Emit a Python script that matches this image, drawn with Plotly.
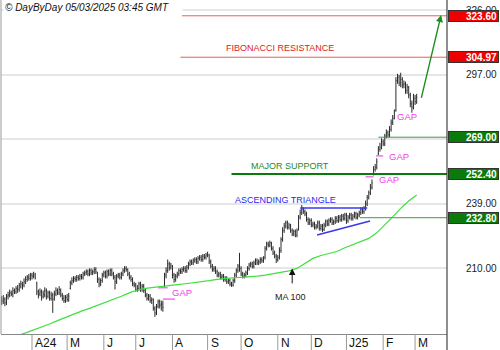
import pandas as pd
import plotly.graph_objects as go

# Daily session dates (business days)
dates = pd.bdate_range("2024-03-05", "2025-03-04")

opens = [
    196, 195.5, 196, 195, 197.5, 198, 199, 198.5, 200, 199.5,
    201, 200.5, 202, 203, 202.5, 204, 205, 206, 205.5, 207,
    206.5, 207, 203.5, 199, 198.5, 199, 197.5, 198, 200, 197.5,
    199, 196.5, 198, 196.5, 198.5, 200, 199, 200, 198, 196.5,
    195.5, 197, 196, 201, 203.5, 204.5, 205.5, 205, 206, 205.5,
    206.5, 206, 207.5, 208, 208.5, 207.5, 209, 208, 208.5, 209.5,
    208, 205, 203, 204.5, 207, 208, 206.5, 208.5, 207.5, 209,
    207.5, 206, 204, 206.5, 207, 206, 207.5, 209, 210, 209.5,
    207.5, 206, 205, 203, 202.5, 200.5, 201, 203, 200.5, 202,
    200, 198, 196.5, 197.5, 195.5, 196, 192, 190, 193, 195,
    193.5, 194, 202.5, 207, 209, 212, 210.5, 211, 207, 205,
    206.5, 207.5, 209, 208.5, 209.5, 210, 209, 210.5, 212, 213,
    212.5, 213.5, 214, 213, 214.5, 215, 214, 215.5, 215, 216,
    216, 213, 211, 209.5, 210, 208.5, 207, 207.5, 206, 206.5,
    205, 205.5, 204, 204.5, 203, 202.5, 204.5, 207, 209, 211,
    210, 207.5, 206.5, 207, 208, 210, 211.5, 212, 211, 212.5,
    213.5, 212.5, 213, 214, 213.5, 215, 219, 221, 220.5, 221.5,
    219, 217, 215.5, 214, 215, 218, 223, 227, 229, 230.5,
    228.5, 229.5, 227, 225.5, 226.5, 225, 228, 233, 235, 236.5,
    235.5, 234.5, 232, 230.5, 231.5, 229.5, 230, 228.5, 229, 230.5,
    228, 229, 227.5, 229.5, 231, 230, 231.5, 232, 230.5, 231,
    232.5, 231.5, 233, 232, 233.5, 232.5, 234, 231.5, 233, 234,
    232.5, 233.5, 234.5, 233, 234, 235, 236.5, 235.5, 237, 239,
    242, 244, 246.5, 252.5, 254.5, 255.5, 261.5, 263.5, 264.5, 267,
    266, 269.5, 271, 270, 272.5, 275.5, 277.5, 281, 294.5, 296,
    293.5, 295, 292.5, 293, 290, 291.5, 288, 284, 282.5, 286.5,
    285,
]

highs = [
    197.5, 198, 197, 198.5, 199.5, 200.5, 200, 201.5, 201, 202,
    202.5, 203.5, 204.5, 204, 205.5, 206.5, 207, 207.5, 208, 208,
    208.5, 208, 204, 200.5, 201, 200.5, 200, 201.5, 201, 200,
    200, 199.5, 199, 200, 201.5, 201, 202, 201, 199, 198,
    198, 198.5, 199, 204.5, 206, 206.5, 206.5, 207, 207, 207.5,
    207.5, 208.5, 209, 209.5, 209.5, 210, 210, 209.5, 210.5, 210.5,
    208.5, 206, 205.5, 208, 209, 209, 209.5, 209.5, 210, 210,
    208.5, 207, 207.5, 208, 208, 208.5, 210, 211, 211, 210,
    208.5, 207, 206, 204, 203.5, 202.5, 204, 204, 203, 203,
    201, 199, 198.5, 198.5, 197, 196.5, 193, 194, 196, 196,
    195.5, 195.5, 208, 210.5, 214, 213, 212.5, 211.5, 208, 207.5,
    208.5, 210, 210, 210.5, 211, 211, 211.5, 213, 214, 214,
    214.5, 215, 215, 215.5, 216, 216, 216.5, 216.5, 217, 217.5,
    216.5, 214, 212, 211, 211, 209.5, 208.5, 208.5, 207.5, 207.5,
    206.5, 206.5, 205.5, 205.5, 204, 205.5, 208, 210, 212, 217,
    211, 208.5, 208, 209, 211, 212.5, 213, 213, 213.5, 214.5,
    214.5, 214, 215, 215, 215.5, 220, 222, 222, 222.5, 222,
    220, 218, 216.5, 216, 219.5, 224, 228.5, 230.5, 231.5, 231.5,
    230.5, 230, 228, 227.5, 227.5, 228, 234, 236.5, 238.5, 237.5,
    236.5, 235.5, 233, 232.5, 232.5, 231, 231, 230, 231.5, 231.5,
    230, 230, 230.5, 232, 232, 232.5, 233, 233, 232, 233.5,
    233.5, 234, 234, 234.5, 234.5, 235, 235, 234, 235, 235,
    234.5, 235.5, 235.5, 235, 236, 237.5, 237.5, 238, 240.5, 243,
    245, 248, 250, 256, 257, 259.5, 265, 266.5, 268.5, 268,
    270.5, 272.5, 272, 274, 277, 279, 281.5, 296, 297.5, 297,
    298, 296, 294.5, 294, 293, 292, 289, 285.5, 288.5, 288,
    288.5,
]

lows = [
    193.5, 194, 193, 193.5, 196, 197, 197.5, 197, 198.5, 198.5,
    199, 199.5, 201, 200.5, 201.5, 203, 204, 204.5, 204.5, 205,
    205.5, 205, 198, 196.5, 197.5, 195.5, 196.5, 197, 196, 196.5,
    195.5, 195.5, 190, 195.5, 197.5, 198, 198, 197, 195.5, 194.5,
    194.5, 195, 195, 200.5, 202.5, 203.5, 204, 204, 204.5, 204.5,
    205, 205, 206.5, 207, 206.5, 206.5, 207, 207, 207.5, 207.5,
    203.5, 201.5, 202, 203.5, 206, 205.5, 205.5, 206.5, 206.5, 206.5,
    205, 200.5, 203, 205.5, 205, 205, 206.5, 208, 208.5, 206.5,
    205, 204, 202, 201.5, 199.5, 199.5, 200, 199.5, 199.5, 199,
    197, 195.5, 195.5, 194.5, 194, 191, 188.2, 189, 192, 192,
    191, 190.5, 201.5, 205.5, 208, 209, 209.5, 205.5, 203.5, 204,
    205.5, 206.5, 207.5, 207.5, 208.5, 208, 208, 209.5, 211, 211.5,
    211.5, 212.5, 212, 212, 213.5, 213, 213, 214, 214, 215,
    212, 210, 208.5, 208.5, 207.5, 206, 206, 205, 205, 204,
    204, 203, 203, 202, 201.7, 201.8, 203.5, 206, 208, 208.5,
    206.5, 205.5, 205.5, 206, 207, 209, 210.5, 210, 210, 211.5,
    211.5, 211.5, 212, 212.5, 212.5, 214, 218, 219.5, 219.5, 218,
    216, 214.5, 212.4, 213, 214, 217, 222, 226, 228, 227.5,
    227.5, 226, 224.5, 224.5, 224, 224, 227, 232, 234, 234.5,
    233.5, 231, 229.5, 229.5, 228.5, 228.5, 227.5, 227.5, 228, 227,
    227, 226.4, 226.8, 228.5, 229, 229, 230.5, 229.5, 229.5, 230,
    230.5, 230.5, 231, 231, 231.5, 231.5, 230, 230.5, 232, 231.5,
    231.5, 232.5, 232, 232, 233, 234, 234.5, 234.5, 236, 238,
    241, 243, 245.5, 251.8, 253.5, 254.5, 261, 262.5, 263.5, 265,
    265, 268.5, 269, 269, 271.5, 274.5, 277, 280.5, 293, 292,
    291.5, 291, 291, 288.5, 288.5, 286.5, 282.5, 280, 281.5, 283.5,
    284,
]

closes = [
    195, 196.5, 194.5, 197, 198, 199, 198.5, 200, 199.5, 201,
    200.5, 202.5, 203, 202, 204, 205, 206, 205.5, 207, 206.5,
    207.5, 206, 199.5, 198, 199.5, 197, 198.5, 200, 197.5, 199,
    196.5, 198, 196, 198.5, 200, 199, 200.5, 198, 196.5, 195.5,
    197, 196, 197.5, 203.5, 204.5, 205.5, 205, 206, 205.5, 206.5,
    206, 207.5, 208, 208.5, 207.5, 209, 208, 208.5, 209.5, 208.5,
    205, 203, 204.5, 207, 208, 206.5, 208.5, 207.5, 209, 207.5,
    206, 204, 206.5, 207, 206, 207.5, 209, 210, 209.5, 207.5,
    206, 205, 203, 202.5, 200.5, 201, 203, 200.5, 202, 200,
    198, 196.5, 197.5, 195.5, 196, 192, 190, 193, 195, 193.5,
    194, 192.5, 207, 209, 212, 210.5, 211.5, 207, 205, 206.5,
    207.5, 209, 208.5, 209.5, 210, 209, 210.5, 212, 213, 212.5,
    213.5, 214, 213, 214.5, 215, 214, 215.5, 215, 216, 216.5,
    213, 211, 209.5, 210, 208.5, 207, 207.5, 206, 206.5, 205,
    205.5, 204, 204.5, 203, 202.5, 204.5, 207, 209, 211, 210,
    207.5, 206.5, 207, 208, 210, 211.5, 212, 211, 212.5, 213.5,
    212.5, 213, 214, 213.5, 214.5, 219, 221, 220.5, 221.5, 219,
    217, 215.5, 214, 215, 218, 223, 227, 229, 230.5, 228.5,
    229.5, 227, 225.5, 226.5, 225, 227, 233, 235, 236.5, 235.5,
    234.5, 232, 230.5, 231.5, 229.5, 230, 228.5, 229, 230.5, 228,
    229, 227.5, 229.5, 231, 230, 231.5, 232, 230.5, 231, 232.5,
    231.5, 233, 232, 233.5, 232.5, 234, 231.5, 233, 234, 232.5,
    233.5, 234.5, 233, 234, 235, 236.5, 235.5, 237, 239, 242,
    244, 246.5, 248.5, 254.5, 255.5, 258, 263.5, 264.5, 267, 266,
    269.5, 271, 270, 272.5, 275.5, 277.5, 280.5, 294.5, 296, 293.5,
    295, 292.5, 293, 290, 291.5, 288, 284, 282.5, 286.5, 285,
    287,
]

# 100-day moving average, sampled every fifth session
ma_days = [0, 5, 10, 15, 20, 25, 30, 35, 40, 45, 50, 55, 60, 65, 70, 75,
           80, 85, 90, 95, 100, 105, 110, 115, 120, 125, 130, 135, 140, 145,
           150, 155, 160, 165, 170, 175, 180, 185, 190, 195, 200, 205, 210,
           215, 220, 225, 230, 235, 240, 245, 250, 255, 260]
ma_100 = [177.5, 178.5, 179.8, 181, 182.3, 183.5, 185, 186.5, 188, 189.5,
          190.8, 192, 193.3, 194.6, 196, 197.5, 199, 200.3, 201, 201.5,
          201.9, 202.3, 202.7, 203.1, 203.5, 203.9, 204.5, 205.1, 205.6,
          205.8, 206, 206.2, 206.5, 207, 207.6, 208.1, 208.9, 210, 212.4,
          214.5, 215.8, 216.7, 217.6, 219.3, 220.8, 222, 223.5, 226, 229.5,
          233.2, 237, 240.3, 243]

month_labels = ["A24", "M", "J", "J", "A", "S", "O", "N", "D", "J25", "F", "M"]
price_ticks = [210, 239, 268, 297, 326]
price_tick_labels = ["210.00", "239.00", "", "297.00", "326.00"]

# Key levels and the session where each line begins
levels = [323.60, 304.97, 269.00, 252.40, 232.80]
level_from = [113, 112, 236, 144, 224.5]

# Ascending triangle: flat top and rising base (session, price)
tri_top = [(187, 237.2), (229, 237.2)]
tri_base = [(197.6, 225.0), (230.8, 231.3)]

# Gap markers: (from session, to session, price)
gap_marks = [(98, 104, 201.3), (101, 108.5, 196.2), (228, 233, 251.2), (234.5, 239, 260.6)]
gap_texts = [(105.5, 199.0), (235, 249.8), (241.4, 260.1), (246.4, 278.1)]

assert len(opens) == len(highs) == len(lows) == len(closes) == len(dates)

idx = list(range(len(dates)))
month_start = [i for i in range(1, len(dates)) if dates[i].month != dates[i - 1].month]

X_RANGE = [-0.43, 279.0]
Y_RANGE = [180.5, 330.7]
PLOT_H = 334
FONT = "Arial, Liberation Sans, sans-serif"

fig = go.Figure()

fig.add_trace(go.Scatter(
    x=ma_days, y=ma_100, mode="lines",
    line=dict(color="#3ee03e", width=1.2), hoverinfo="skip",
))

fig.add_trace(go.Ohlc(
    x=idx, open=opens, high=highs, low=lows, close=closes,
    increasing_line_color="#2a2a2a", decreasing_line_color="#2a2a2a",
    line_width=1, tickwidth=0.35, hoverinfo="skip",
))

shapes = []
ann = []

# horizontal key levels
level_styles = [
    dict(color="#ee5a5a", width=1),
    dict(color="#ee5a5a", width=1),
    dict(color="#3c9c3c", width=1),
    dict(color="#0a7a0a", width=2),
    dict(color="#66b066", width=1.2),
]
for v, x0, st in zip(levels, level_from, level_styles):
    shapes.append(dict(type="line", xref="x", yref="y", x0=x0, x1=X_RANGE[1],
                       y0=v, y1=v, line=st, layer="above"))

# triangle lines
for seg in (tri_top, tri_base):
    shapes.append(dict(type="line", xref="x", yref="y",
                       x0=seg[0][0], y0=seg[0][1], x1=seg[1][0], y1=seg[1][1],
                       line=dict(color="#3838ee", width=1.5), layer="above"))

# gap markers
for x0, x1, v in gap_marks:
    shapes.append(dict(type="line", xref="x", yref="y", x0=x0, x1=x1, y0=v, y1=v,
                       line=dict(color="#f070f0", width=1.5), layer="above"))
for gx, gy in gap_texts:
    ann.append(dict(x=gx, y=gy, xref="x", yref="y", text="GAP", showarrow=False,
                    xanchor="left", yanchor="middle",
                    font=dict(family=FONT, size=9.5, color="#f040f0")))

# frame lines
below = -16 / PLOT_H
shapes.append(dict(type="line", xref="paper", yref="paper", x0=1, x1=1, y0=below, y1=1,
                   line=dict(color="#444", width=1.2)))
shapes.append(dict(type="line", xref="paper", yref="paper", x0=0, x1=0, y0=0, y1=1,
                   line=dict(color="#999", width=1)))

# month separators and labels
for i, lab in zip(month_start, month_labels):
    shapes.append(dict(type="line", xref="x", yref="paper", x0=i, x1=i, y0=below, y1=0,
                       line=dict(color="#999", width=1)))
    ann.append(dict(x=i, y=-8.5 / PLOT_H, xref="x", yref="paper", text=lab,
                    showarrow=False, xanchor="left", yanchor="middle", xshift=1,
                    font=dict(family=FONT, size=12, color="#111")))

# right-hand price labels
for v, t in zip(price_ticks, price_tick_labels):
    if t:
        ann.append(dict(x=1, y=v, xref="paper", yref="y", text=t, showarrow=False,
                        xanchor="right", yanchor="middle", xshift=52,
                        font=dict(family=FONT, size=10, color="#222")))

box_colors = ["#ee0000", "#ee0000", "#0a7a0a", "#0a7a0a", "#0a7a0a"]
for v, bc in zip(levels, box_colors):
    ann.append(dict(x=1, y=v, xref="paper", yref="y", text=f"<b>{v:.2f}</b>",
                    showarrow=False, xanchor="left", yanchor="middle", xshift=1,
                    width=47, height=8, align="right", bgcolor=bc,
                    bordercolor="#333", borderwidth=1, borderpad=1,
                    font=dict(family=FONT, size=10, color="white")))

# text labels
ann += [
    dict(x=174.4, y=309.1, xref="x", yref="y", text="FIBONACCI RESISTANCE", showarrow=False,
         font=dict(family=FONT, size=9, color="#e02020")),
    dict(x=180.7, y=256.1, xref="x", yref="y", text="MAJOR SUPPORT", showarrow=False,
         font=dict(family=FONT, size=9, color="#248a24")),
    dict(x=177.5, y=240.8, xref="x", yref="y", text="ASCENDING TRIANGLE", showarrow=False,
         font=dict(family=FONT, size=9, color="#2a2aee")),
    dict(x=180.7, y=197.2, xref="x", yref="y", text="MA 100", showarrow=False,
         font=dict(family=FONT, size=9, color="#222")),
    dict(x=182, y=209.9, ax=182, ay=202.6, xref="x", yref="y", axref="x", ayref="y",
         text="", showarrow=True, arrowhead=2, arrowsize=1.3, arrowwidth=1,
         arrowcolor="#111"),
    dict(x=275.3, y=323.9, ax=262.7, ay=286.0, xref="x", yref="y", axref="x", ayref="y",
         text="", showarrow=True, arrowhead=2, arrowsize=1, arrowwidth=1.4,
         arrowcolor="#1e8c1e"),
    dict(x=0, y=1, xref="paper", yref="paper", xanchor="left", yanchor="top",
         text="<i>© DayByDay 05/03/2025 03:45 GMT</i>", showarrow=False,
         width=176, align="left", bgcolor="white", xshift=2,
         font=dict(family=FONT, size=10, color="#111")),
]

fig.update_layout(
    width=500, height=350,
    margin=dict(l=1, r=53, t=0, b=16),
    paper_bgcolor="white", plot_bgcolor="white",
    showlegend=False, hovermode=False,
    shapes=shapes, annotations=ann,
    xaxis=dict(range=X_RANGE, showgrid=False, zeroline=False, showticklabels=False,
               ticks="", showline=True, linecolor="#888", linewidth=1,
               rangeslider=dict(visible=False), fixedrange=True),
    yaxis=dict(range=Y_RANGE, side="right", tickvals=price_ticks, showticklabels=False,
               showgrid=True, gridcolor="#e6e6e6", gridwidth=1.5, zeroline=False,
               ticks="", showline=False, fixedrange=True),
)

fig.write_html("out.html", config={"displayModeBar": False})
